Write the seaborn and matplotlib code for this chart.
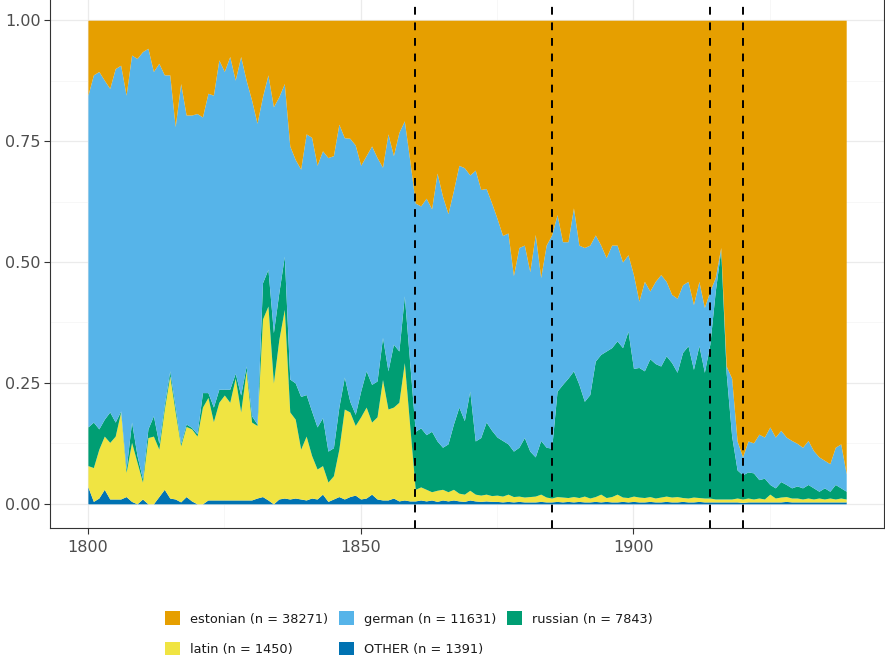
import numpy as np
import pandas as pd
import matplotlib
matplotlib.use('Agg')
import matplotlib.pyplot as plt
import seaborn as sns
from matplotlib.patches import Patch
from matplotlib.ticker import MultipleLocator

# Años y proporciones por idioma
years = list(range(1800, 1940))

other = [
    .035, .005, .012, .030, .010, .010, .010, .015, .005, .000,
    .010, .000, .000, .015, .030, .012, .010, .004, .015, .006,
    .000, .000, .008, .008, .008, .008, .008, .008, .008, .008,
    .008, .012, .015, .008, .000, .010, .012, .010, .012, .010,
    .008, .012, .010, .020, .005, .010, .015, .010, .015, .018,
    .010, .012, .020, .010, .008, .008, .012, .006, .008, .006,
    .006, .008, .006, .008, .005, .008, .006, .008, .006, .005,
    .008, .006, .005, .006, .005, .005, .004, .005, .004, .005,
    .004, .004, .004, .005, .004, .004, .005, .004, .005, .004,
    .005, .004, .004, .005, .004, .005, .004, .004, .005, .004,
    .005, .004, .004, .005, .004, .004, .005, .004, .004, .005,
    .004, .004, .005, .004, .004, .004, .004, .004, .004, .004,
    .003, .004, .004, .004, .004, .004, .004, .004, .005, .004,
    .004, .004, .004, .004, .004, .004, .004, .004, .004, .004,
]
latin = [
    .044, .070, .101, .110, .117, .130, .180, .050, .122, .086,
    .035, .137, .140, .098, .166, .253, .180, .116, .145, .149,
    .140, .200, .212, .162, .202, .217, .202, .252, .182, .267,
    .161, .150, .367, .401, .250, .330, .390, .180, .163, .103,
    .132, .088, .062, .059, .040, .048, .098, .186, .175, .144,
    .170, .188, .149, .170, .249, .188, .188, .204, .284, .154,
    .024, .027, .024, .017, .023, .022, .019, .022, .016, .015,
    .020, .014, .013, .014, .012, .013, .012, .015, .011, .011,
    .010, .011, .012, .015, .010, .008, .010, .010, .008, .011,
    .008, .012, .008, .010, .016, .008, .011, .016, .009, .009,
    .011, .010, .009, .010, .008, .010, .011, .010, .011, .008,
    .008, .010, .008, .008, .008, .006, .006, .006, .006, .008,
    .007, .008, .006, .008, .006, .016, .008, .010, .010, .008,
    .008, .006, .008, .006, .008, .006, .008, .006, .008, .006,
]
russian = [
    .080, .094, .042, .035, .063, .029, .002, .007, .042, .014,
    .007, .018, .042, .012, .009, .010, .010, .005, .005, .003,
    .005, .030, .010, .030, .027, .012, .027, .010, .035, .010,
    .013, .003, .075, .076, .104, .097, .110, .068, .075, .109,
    .086, .092, .087, .099, .064, .058, .087, .066, .022, .023,
    .053, .075, .078, .074, .087, .079, .130, .106, .138, .130,
    .120, .122, .113, .125, .102, .087, .099, .135, .178, .152,
    .205, .110, .119, .149, .135, .120, .115, .104, .094, .101,
    .123, .094, .081, .111, .103, .103, .218, .233, .247, .260,
    .234, .196, .214, .280, .289, .303, .308, .317, .309, .344,
    .264, .268, .262, .285, .278, .271, .290, .278, .257, .300,
    .315, .264, .314, .260, .318, .430, .515, .260, .130, .058,
    .050, .054, .054, .038, .043, .020, .021, .032, .025, .021,
    .025, .023, .028, .023, .014, .023, .014, .030, .021, .016,
]
german = [
    .686, .718, .739, .701, .669, .731, .715, .773, .759, .821,
    .883, .787, .712, .786, .682, .612, .580, .744, .639, .646,
    .662, .570, .619, .645, .681, .657, .688, .606, .700, .591,
    .653, .622, .385, .402, .467, .405, .357, .482, .462, .470,
    .539, .566, .541, .552, .607, .604, .585, .495, .544, .557,
    .467, .445, .493, .462, .352, .490, .390, .452, .362, .420,
    .472, .459, .489, .460, .554, .519, .476, .483, .500, .523,
    .447, .560, .513, .483, .470, .452, .424, .436, .363, .413,
    .398, .371, .460, .337, .418, .441, .365, .295, .282, .337,
    .288, .318, .309, .261, .226, .193, .212, .198, .177, .158,
    .194, .137, .185, .140, .170, .189, .154, .141, .153, .140,
    .133, .134, .133, .134, .110, .028, .005, .015, .120, .060,
    .037, .064, .062, .094, .085, .119, .105, .106, .098, .098,
    .088, .084, .091, .077, .071, .057, .057, .077, .091, .036,
]
estonian = [
    .155, .113, .106, .124, .141, .100, .093, .155, .072, .079,
    .065, .058, .106, .089, .113, .113, .220, .131, .196, .196,
    .193, .200, .151, .155, .082, .106, .075, .124, .075, .124,
    .165, .213, .158, .113, .179, .158, .131, .260, .288, .308,
    .235, .242, .300, .270, .284, .280, .215, .243, .244, .258,
    .300, .280, .260, .284, .304, .235, .280, .232, .208, .290,
    .378, .384, .368, .390, .316, .364, .400, .352, .300, .305,
    .320, .310, .350, .348, .378, .410, .445, .440, .528, .470,
    .465, .520, .443, .532, .465, .444, .402, .458, .458, .388,
    .465, .470, .465, .444, .465, .491, .465, .465, .500, .485,
    .526, .581, .540, .560, .540, .526, .540, .567, .575, .547,
    .540, .588, .540, .594, .560, .532, .470, .715, .740, .870,
    .903, .870, .874, .856, .862, .841, .862, .848, .862, .869,
    .875, .883, .869, .890, .903, .910, .917, .883, .876, .938,
]

labels = ['estonian (n = 38271)', 'german (n = 11631)', 'russian (n = 7843)',
          'latin (n = 1450)', 'OTHER (n = 1391)']
colores = {'estonian': '#E69F00', 'german': '#56B4E9', 'russian': '#009E73',
           'latin': '#F0E442', 'OTHER': '#0072B2'}
eventos = [1860, 1885, 1914, 1920]

df = pd.DataFrame({'year': years, 'OTHER': other, 'latin': latin,
                   'russian': russian, 'german': german, 'estonian': estonian})
orden = ['OTHER', 'latin', 'russian', 'german', 'estonian']

sns.set_theme(style='white')
plt.rcParams['font.family'] = ['DejaVu Sans']

fig = plt.figure(figsize=(8.85, 6.6), dpi=100)
ax = fig.add_axes([0.0565, 0.2, 0.9425, 0.806])

ax.stackplot(df['year'], *[df[c] for c in orden],
             colors=[colores[c] for c in orden], linewidth=0, zorder=2)

for x in eventos:
    ax.axvline(x, color='black', linestyle=(0, (4, 4)), linewidth=1.4, zorder=3)

ax.set_xlim(1793.05, 1945.95)
ax.set_ylim(-0.05, 1.05)
ax.xaxis.set_major_locator(MultipleLocator(50))
ax.xaxis.set_minor_locator(MultipleLocator(25))
ax.yaxis.set_major_locator(MultipleLocator(0.25))
ax.yaxis.set_minor_locator(MultipleLocator(0.125))
ax.yaxis.set_major_formatter(matplotlib.ticker.FormatStrFormatter('%.2f'))
ax.grid(which='major', color='#ebebeb', linewidth=0.9, zorder=0)
ax.grid(which='minor', color='#f4f4f4', linewidth=0.5, zorder=0)
ax.set_axisbelow(True)
ax.tick_params(axis='both', which='major', length=4, width=0.8, color='#333333',
               labelsize=11.5, labelcolor='#4d4d4d', direction='out', pad=2.5,
               bottom=True, left=True)
ax.tick_params(axis='x', which='major', pad=5)
ax.tick_params(axis='both', which='minor', length=0)
for s in ax.spines.values():
    s.set_color('#333333')
    s.set_linewidth(0.8)
ax.set_xlabel('')
ax.set_ylabel('')

leg_orden = ['estonian', 'latin', 'german', 'OTHER', 'russian']
leg_labels = dict(zip(['estonian', 'german', 'russian', 'latin', 'OTHER'], labels))
handles = [Patch(facecolor=colores[c], edgecolor='none') for c in leg_orden]
fig.legend(handles, [leg_labels[c] for c in leg_orden], ncol=3,
           loc='center', bbox_to_anchor=(409 / 885, 0.04), frameon=False,
           fontsize=9.3, handlelength=1.17, handleheight=1.25, handletextpad=0.78,
           columnspacing=0.8, labelspacing=1.25, labelcolor='#1a1a1a')

fig.savefig('out.png', dpi=100)
